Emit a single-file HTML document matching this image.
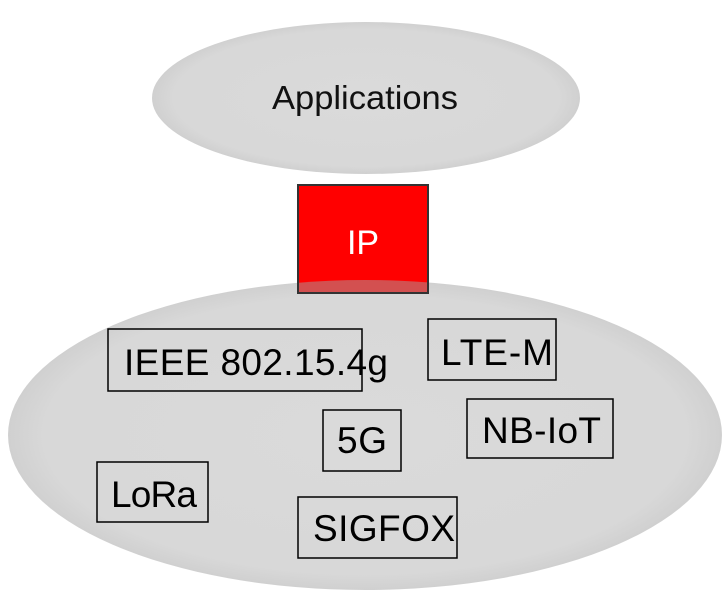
<!DOCTYPE html>
<html><head><style>
html,body{margin:0;padding:0;background:#fff;}
svg{display:block;}
text{font-family:"Liberation Sans",sans-serif;}
</style></head><body>
<svg width="726" height="601" viewBox="0 0 726 601" xmlns="http://www.w3.org/2000/svg">
<defs>
<radialGradient id="g" cx="50%" cy="50%" r="50%">
<stop offset="0" stop-color="#dadada"/><stop offset="0.9" stop-color="#d8d8d8"/><stop offset="1" stop-color="#d0d0d0"/>
</radialGradient>
<clipPath id="c"><rect x="297" y="184" width="132" height="110"/></clipPath>
</defs>
<ellipse cx="366" cy="98" rx="214" ry="76" fill="url(#g)"/>
<text x="365" y="109" font-size="33" text-anchor="middle" fill="#111" textLength="186" lengthAdjust="spacingAndGlyphs">Applications</text>
<ellipse cx="365" cy="435" rx="357" ry="155" fill="url(#g)"/>
<rect x="298" y="185" width="130" height="108" fill="#ff0000" stroke="#111" stroke-width="2"/>
<ellipse cx="365" cy="435" rx="357" ry="155" fill="#d35050" clip-path="url(#c)"/>
<rect x="298" y="185" width="130" height="108" fill="none" stroke="#333" stroke-width="2"/>
<text x="363" y="254" font-size="34" text-anchor="middle" fill="#fff">IP</text>
<g fill="none" stroke="#000" stroke-width="1.5">
<rect x="108" y="329" width="254" height="62"/>
<rect x="428" y="319" width="128" height="61"/>
<rect x="323" y="410" width="78" height="61"/>
<rect x="467" y="399" width="146" height="59"/>
<rect x="97" y="462" width="111" height="60"/>
<rect x="298" y="497" width="159" height="61"/>
</g>
<g font-size="37" fill="#000" lengthAdjust="spacingAndGlyphs">
<text x="124" y="375" textLength="264">IEEE 802.15.4g</text>
<text x="441" y="365" textLength="112">LTE-M</text>
<text x="337" y="453" textLength="50">5G</text>
<text x="482" y="443" textLength="119">NB-IoT</text>
<text x="111" y="507" textLength="86">LoRa</text>
<text x="313" y="541" textLength="142">SIGFOX</text>
</g>
</svg>
</body></html>
